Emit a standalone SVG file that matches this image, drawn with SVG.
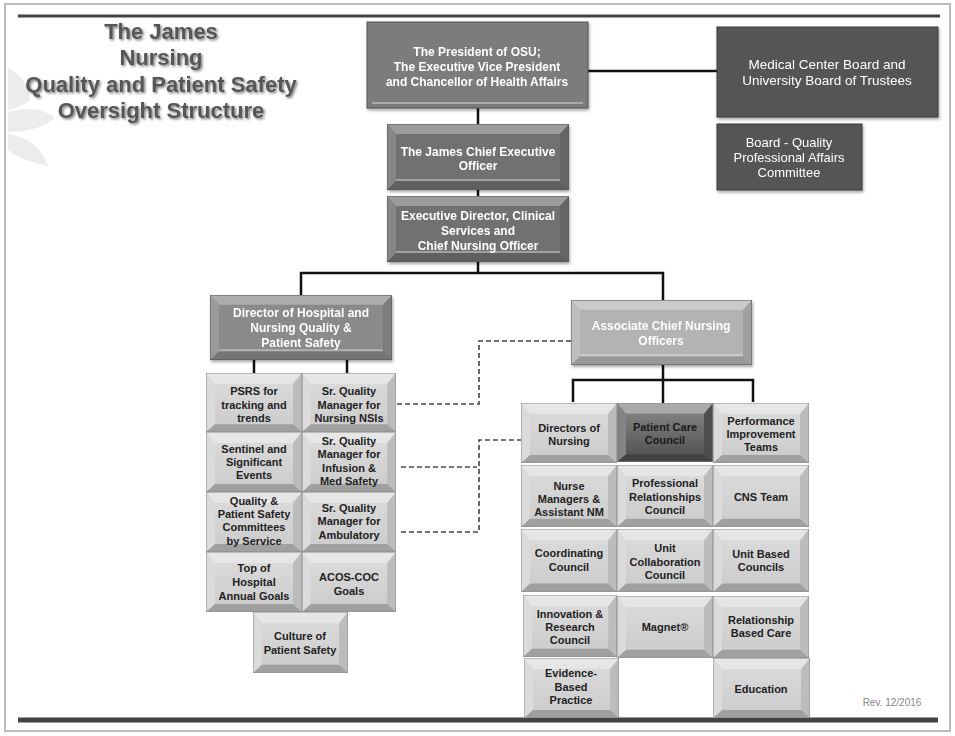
<svg xmlns="http://www.w3.org/2000/svg" xmlns:xlink="http://www.w3.org/1999/xlink" width="955" height="736" viewBox="0 0 955 736">
<defs>
<style>
.t{font-family:"Liberation Sans",Arial,sans-serif;font-weight:bold;font-size:11px;fill:#222;text-anchor:middle}
.w{fill:#fff;font-size:12px}
.n{font-weight:normal;font-size:13.5px;fill:#fff}
.title{font-family:"Liberation Sans",Arial,sans-serif;font-weight:bold;font-size:22px;fill:#575757;text-anchor:middle}
.c{fill:none;stroke:#111;stroke-width:2.5}
.d{fill:none;stroke:#444;stroke-width:1.6;stroke-dasharray:5 3}
</style>
<filter id="sh" x="-10%" y="-10%" width="130%" height="140%"><feDropShadow dx="1" dy="2" stdDeviation="1.5" flood-color="#000" flood-opacity="0.35"/></filter>
<filter id="tsh" x="-5%" y="-20%" width="110%" height="150%"><feDropShadow dx="1.5" dy="1.5" stdDeviation="1.2" flood-color="#000" flood-opacity="0.5"/></filter>
<linearGradient id="fg" x1="0" y1="0" x2="0" y2="1"><stop offset="0" stop-color="#fff" stop-opacity="0.25"/><stop offset="1" stop-color="#fff" stop-opacity="0"/></linearGradient>
<symbol id="tile" viewBox="0 0 96 60" preserveAspectRatio="none">
<rect x="0" y="0" width="96" height="60"/>
<polygon points="0,0 96,0 87,11 9,11" fill="#fff" fill-opacity="0.5"/>
<polygon points="0,0 9,11 9,52 0,60" fill="#fff" fill-opacity="0.28"/>
<polygon points="96,0 87,11 87,52 96,60" fill="#000" fill-opacity="0.08"/>
<polygon points="0,60 96,60 87,52 9,52" fill="#000" fill-opacity="0.22"/>
<rect x="9" y="11" width="78" height="41" fill="url(#fg)"/>
<rect x="0" y="0" width="96" height="60" fill="none" stroke="#8a8a8a" stroke-width="1" vector-effect="non-scaling-stroke"/>
</symbol>
<symbol id="box" viewBox="0 0 180 66" preserveAspectRatio="none">
<rect x="0" y="0" width="180" height="66"/>
<polygon points="0,0 180,0 171,10 9,10" fill="#fff" fill-opacity="0.3"/>
<polygon points="0,0 9,10 9,57 0,66" fill="#fff" fill-opacity="0.15"/>
<polygon points="180,0 171,10 171,57 180,66" fill="#000" fill-opacity="0.1"/>
<polygon points="0,66 180,66 171,57 9,57" fill="#000" fill-opacity="0.15"/>
<line x1="9" y1="56" x2="171" y2="56" stroke="#fff" stroke-opacity="0.35" stroke-width="2" vector-effect="non-scaling-stroke"/>
<rect x="0" y="0" width="180" height="66" fill="none" stroke="#555" stroke-width="1" vector-effect="non-scaling-stroke"/>
</symbol>
</defs>

<rect x="5" y="4" width="945" height="727" fill="#fff" stroke="#bbb" stroke-width="2"/>
<g id="decor" fill="#ececec">
<path d="M8,68 Q28,78 30,100 Q20,108 8,110 Z"/>
<path d="M8,112 Q38,104 55,118 Q38,132 8,132 Z"/>
<path d="M8,134 Q38,138 48,166 Q20,160 8,150 Z"/>
</g>
<line x1="18" y1="16" x2="940" y2="16" stroke="#444" stroke-width="3"/>
<line x1="18" y1="720" x2="938" y2="720" stroke="#444" stroke-width="5"/>

<g id="title" filter="url(#tsh)">
<text class="title" x="161" y="39">The James</text>
<text class="title" x="161" y="65">Nursing</text>
<text class="title" x="161" y="92">Quality and Patient Safety</text>
<text class="title" x="161" y="118">Oversight Structure</text>
</g>

<g id="connectors">
<line class="c" x1="588" y1="71" x2="717" y2="71"/>
<line class="c" x1="478" y1="108" x2="478" y2="124"/>
<line class="c" x1="478" y1="190" x2="478" y2="196"/>
<polyline class="c" points="478,262 478,273"/>
<polyline class="c" points="301,296 301,273 663,273 663,300"/>
<line class="c" x1="254" y1="360" x2="254" y2="373"/>
<line class="c" x1="347" y1="360" x2="347" y2="373"/>
<line class="c" x1="663" y1="365" x2="663" y2="403"/>
<polyline class="c" points="573,402 573,380 753,380 753,402"/>
<polyline class="d" points="397,404 479,404 479,341 571,341"/>
<polyline class="d" points="401,467 477,467"/>
<polyline class="d" points="401,532 479,532 479,440 521,440"/>
</g>

<g id="president" filter="url(#sh)">
<rect x="367" y="22" width="221" height="86" fill="#7b7b7b" stroke="#555"/>
<line x1="372" y1="103" x2="583" y2="103" stroke="#aaa" stroke-width="2"/>
<text class="t w" x="477" y="56">The President of OSU;</text>
<text class="t w" x="477" y="71">The Executive Vice President</text>
<text class="t w" x="477" y="86">and Chancellor of Health Affairs</text>
</g>
<g id="medical-board" filter="url(#sh)">
<rect x="717" y="27" width="221" height="90" fill="#555" stroke="#3a3a3a"/>
<text class="t n" x="827" y="69">Medical Center Board and</text>
<text class="t n" x="827" y="85">University Board of Trustees</text>
</g>
<g id="board-quality" filter="url(#sh)">
<rect x="717" y="124" width="145" height="66" fill="#555" stroke="#3a3a3a"/>
<text class="t n" x="789" y="147" style="font-size:13px">Board - Quality</text>
<text class="t n" x="789" y="162" style="font-size:13px">Professional Affairs</text>
<text class="t n" x="789" y="177" style="font-size:13px">Committee</text>
</g>
<g id="ceo" filter="url(#sh)">
<use xlink:href="#box" x="387" y="124" width="182" height="66" fill="#717171"/>
<text class="t w" x="478" y="156">The James Chief Executive</text>
<text class="t w" x="478" y="170">Officer</text>
</g>
<g id="exec-director" filter="url(#sh)">
<use xlink:href="#box" x="387" y="196" width="182" height="66" fill="#717171"/>
<text class="t w" x="478" y="220">Executive Director, Clinical</text>
<text class="t w" x="478" y="235">Services and</text>
<text class="t w" x="478" y="250">Chief Nursing Officer</text>
</g>
<g id="director-quality" filter="url(#sh)">
<use xlink:href="#box" x="210" y="295" width="182" height="65" fill="#8a8a8a"/>
<text class="t w" x="301" y="317">Director of Hospital and</text>
<text class="t w" x="301" y="332">Nursing Quality &amp;</text>
<text class="t w" x="301" y="347">Patient Safety</text>
</g>
<g id="associate-cno" filter="url(#sh)">
<use xlink:href="#box" x="571" y="300" width="181" height="65" fill="#b3b3b3"/>
<text class="t w" x="661" y="330">Associate Chief Nursing</text>
<text class="t w" x="661" y="345">Officers</text>
</g>

<g id="psrs"><use xlink:href="#tile" x="206" y="373" width="96" height="59" fill="#cdcdcd"/>
<text class="t" x="254" y="395">PSRS for</text><text class="t" x="254" y="409">tracking and</text><text class="t" x="254" y="422">trends</text></g>
<g id="sqm-nsi"><use xlink:href="#tile" x="302" y="373" width="94" height="59" fill="#cdcdcd"/>
<text class="t" x="349" y="395">Sr. Quality</text><text class="t" x="349" y="409">Manager for</text><text class="t" x="349" y="422">Nursing NSIs</text></g>
<g id="sentinel"><use xlink:href="#tile" x="206" y="432" width="96" height="60" fill="#cdcdcd"/>
<text class="t" x="254" y="453">Sentinel and</text><text class="t" x="254" y="466">Significant</text><text class="t" x="254" y="479">Events</text></g>
<g id="sqm-infusion"><use xlink:href="#tile" x="302" y="432" width="94" height="60" fill="#cdcdcd"/>
<text class="t" x="349" y="445">Sr. Quality</text><text class="t" x="349" y="458">Manager for</text><text class="t" x="349" y="472">Infusion &amp;</text><text class="t" x="349" y="485">Med Safety</text></g>
<g id="qps-committees"><use xlink:href="#tile" x="206" y="492" width="96" height="60" fill="#cdcdcd"/>
<text class="t" x="254" y="505">Quality &amp;</text><text class="t" x="254" y="518">Patient Safety</text><text class="t" x="254" y="531">Committees</text><text class="t" x="254" y="545">by Service</text></g>
<g id="sqm-ambulatory"><use xlink:href="#tile" x="302" y="492" width="94" height="60" fill="#cdcdcd"/>
<text class="t" x="349" y="512">Sr. Quality</text><text class="t" x="349" y="525">Manager for</text><text class="t" x="349" y="539">Ambulatory</text></g>
<g id="top-goals"><use xlink:href="#tile" x="206" y="552" width="96" height="60" fill="#cdcdcd"/>
<text class="t" x="254" y="572">Top of</text><text class="t" x="254" y="586">Hospital</text><text class="t" x="254" y="600">Annual Goals</text></g>
<g id="acos-coc"><use xlink:href="#tile" x="302" y="552" width="94" height="60" fill="#cdcdcd"/>
<text class="t" x="349" y="581">ACOS-COC</text><text class="t" x="349" y="595">Goals</text></g>
<g id="culture"><use xlink:href="#tile" x="253" y="612" width="95" height="61" fill="#cdcdcd"/>
<text class="t" x="300" y="640">Culture of</text><text class="t" x="300" y="654">Patient Safety</text></g>

<g id="directors-nursing"><use xlink:href="#tile" x="521" y="403" width="96" height="60" fill="#cdcdcd"/>
<text class="t" x="569" y="432">Directors of</text><text class="t" x="569" y="445">Nursing</text></g>
<g id="patient-care-council"><use xlink:href="#tile" x="617" y="403" width="96" height="59" fill="#555"/>
<text class="t" x="665" y="431" style="fill:#1a1a1a">Patient Care</text><text class="t" x="665" y="444" style="fill:#1a1a1a">Council</text></g>
<g id="performance"><use xlink:href="#tile" x="713" y="403" width="96" height="60" fill="#cdcdcd"/>
<text class="t" x="761" y="425">Performance</text><text class="t" x="761" y="438">Improvement</text><text class="t" x="761" y="451">Teams</text></g>
<g id="nurse-managers"><use xlink:href="#tile" x="521" y="465" width="96" height="62" fill="#cdcdcd"/>
<text class="t" x="569" y="490">Nurse</text><text class="t" x="569" y="503">Managers &amp;</text><text class="t" x="569" y="516">Assistant NM</text></g>
<g id="professional-relationships"><use xlink:href="#tile" x="617" y="465" width="96" height="62" fill="#cdcdcd"/>
<text class="t" x="665" y="487">Professional</text><text class="t" x="665" y="501">Relationships</text><text class="t" x="665" y="514">Council</text></g>
<g id="cns-team"><use xlink:href="#tile" x="713" y="465" width="96" height="62" fill="#cdcdcd"/>
<text class="t" x="761" y="501">CNS Team</text></g>
<g id="coordinating"><use xlink:href="#tile" x="521" y="529" width="96" height="63" fill="#cdcdcd"/>
<text class="t" x="569" y="557">Coordinating</text><text class="t" x="569" y="571">Council</text></g>
<g id="unit-collaboration"><use xlink:href="#tile" x="617" y="529" width="96" height="63" fill="#cdcdcd"/>
<text class="t" x="665" y="552">Unit</text><text class="t" x="665" y="566">Collaboration</text><text class="t" x="665" y="579">Council</text></g>
<g id="unit-based"><use xlink:href="#tile" x="713" y="529" width="96" height="63" fill="#cdcdcd"/>
<text class="t" x="761" y="558">Unit Based</text><text class="t" x="761" y="571">Councils</text></g>
<g id="innovation"><use xlink:href="#tile" x="523" y="595" width="94" height="62" fill="#cdcdcd"/>
<text class="t" x="570" y="618">Innovation &amp;</text><text class="t" x="570" y="631">Research</text><text class="t" x="570" y="644">Council</text></g>
<g id="magnet"><use xlink:href="#tile" x="617" y="596" width="96" height="62" fill="#cdcdcd"/>
<text class="t" x="665" y="631">Magnet®</text></g>
<g id="relationship-care"><use xlink:href="#tile" x="713" y="596" width="96" height="62" fill="#cdcdcd"/>
<text class="t" x="761" y="624">Relationship</text><text class="t" x="761" y="637">Based Care</text></g>
<g id="evidence"><use xlink:href="#tile" x="524" y="658" width="95" height="60" fill="#cdcdcd"/>
<text class="t" x="571" y="677">Evidence-</text><text class="t" x="571" y="691">Based</text><text class="t" x="571" y="704">Practice</text></g>
<g id="education"><use xlink:href="#tile" x="713" y="658" width="97" height="60" fill="#cdcdcd"/>
<text class="t" x="761" y="693">Education</text></g>

<text x="892" y="706" style="font-family:'Liberation Sans',Arial,sans-serif;font-size:10px;fill:#888;text-anchor:middle">Rev. 12/2016</text>
</svg>
